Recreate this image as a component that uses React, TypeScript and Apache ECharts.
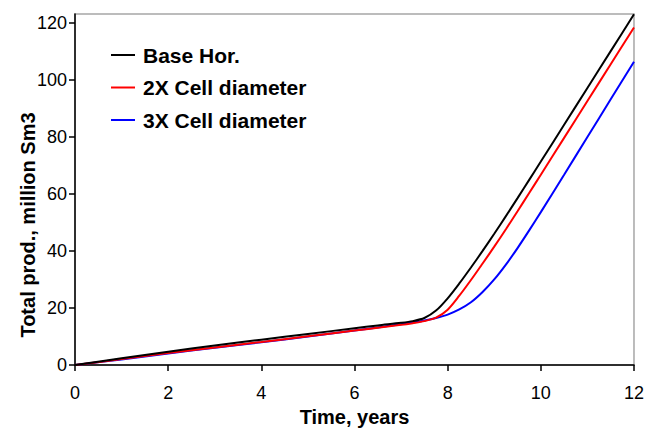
import React, { useEffect, useRef } from "react";
import * as echarts from "echarts";

const seriesNames = ["Base Hor.", "2X Cell diameter", "3X Cell diameter"];
const seriesColors = ["#000000", "#ff0000", "#0000ff"];

const timeYears = [0, 1, 2, 3, 4, 5, 6, 6.5, 7, 7.25, 7.5, 7.75, 8, 8.25, 8.5, 8.75, 9, 9.25, 9.5, 9.75, 10, 10.5, 11, 11.5, 12];
const baseValues = [0, 2.4, 4.7, 6.9, 8.9, 10.9, 12.9, 13.9, 14.8, 15.4, 16.5, 19.1, 23.4, 28.6, 34.2, 40.0, 46.0, 52.2, 58.5, 64.9, 71.3, 84.2, 97.1, 110.0, 122.9];
const twoXValues = [0, 2.1, 4.2, 6.2, 8.1, 10.1, 12.1, 13.1, 14.1, 14.7, 15.4, 16.6, 19.4, 24.3, 29.8, 35.6, 41.5, 47.6, 53.9, 60.3, 66.7, 79.6, 92.5, 105.4, 118.3];
const threeXValues = [0, 2.0, 4.1, 6.1, 8.0, 10.0, 12.1, 13.2, 14.3, 14.9, 15.6, 16.5, 17.7, 19.5, 22.0, 25.6, 30.0, 35.2, 41.0, 47.2, 53.6, 66.7, 79.9, 93.1, 106.3];

const xTicks = [0, 2, 4, 6, 8, 10, 12];
const yTicks = [0, 20, 40, 60, 80, 100, 120];

const pairs = (t: number[], v: number[]) => t.map((x, i) => [x, v[i]]);

export default function App() {
  const ref = useRef<HTMLDivElement>(null);
  useEffect(() => {
    if (!ref.current) return;
    const chart = echarts.init(ref.current, null, { renderer: "svg" });
    const font = "Liberation Sans, Arial, sans-serif";
    const data = [pairs(timeYears, baseValues), pairs(timeYears, twoXValues), pairs(timeYears, threeXValues)];
    chart.setOption({
      animation: false,
      backgroundColor: "#ffffff",
      textStyle: { fontFamily: font },
      grid: {
        left: 75,
        right: 11,
        top: 14,
        bottom: 59,
        show: true,
        borderColor: "#a6a6a6",
        borderWidth: 1.5,
        containLabel: false,
      },
      legend: {
        orient: "vertical",
        left: 111,
        top: 44,
        padding: 0,
        itemWidth: 24,
        itemHeight: 14,
        itemGap: 10.5,
        icon: "path://M0,6 L24,6 L24,8 L0,8 Z",
        textStyle: { fontSize: 21, fontWeight: "bold", color: "#000", fontFamily: font, padding: [0, 0, 0, 3], lineHeight: 22 },
        data: seriesNames,
      },
      xAxis: {
        type: "value",
        min: 0,
        max: 12,
        interval: 2,
        name: "Time, years",
        nameLocation: "middle",
        nameGap: 38,
        nameTextStyle: { fontSize: 20, fontWeight: "bold", color: "#000", fontFamily: font },
        axisLine: { show: true, lineStyle: { color: "#000", width: 1.5 } },
        axisTick: { show: true, inside: false, length: 6, lineStyle: { color: "#000", width: 1.5 }, customValues: xTicks },
        axisLabel: { fontSize: 18, color: "#000", margin: 19, fontFamily: font, customValues: xTicks },
        splitLine: { show: false },
      },
      yAxis: {
        type: "value",
        min: 0,
        max: 123,
        interval: 20,
        axisLine: { show: true, onZero: false, lineStyle: { color: "#000", width: 1.5 } },
        axisTick: { show: true, inside: false, length: 6, lineStyle: { color: "#000", width: 1.5 }, customValues: yTicks },
        axisLabel: { fontSize: 18, color: "#000", margin: 8, fontFamily: font, customValues: yTicks },
        splitLine: { show: false },
      },
      graphic: [
        {
          type: "text",
          x: 28,
          y: 225,
          rotation: Math.PI / 2,
          style: {
            text: "Total prod., million Sm3",
            fill: "#000",
            font: "bold 20px Liberation Sans, Arial, sans-serif",
            textAlign: "center",
            textVerticalAlign: "middle",
          },
        },
      ],
      series: seriesNames.map((name, i) => ({
        name,
        type: "line",
        data: data[i],
        symbol: "none",
        smooth: 0.3,
        clip: true,
        lineStyle: { color: seriesColors[i], width: 2 },
        itemStyle: { color: seriesColors[i] },
        z: 3 - i,
      })),
    });
    return () => chart.dispose();
  }, []);
  return <div ref={ref} style={{ width: 647, height: 432, position: "absolute", left: 0, top: 0 }} />;
}
